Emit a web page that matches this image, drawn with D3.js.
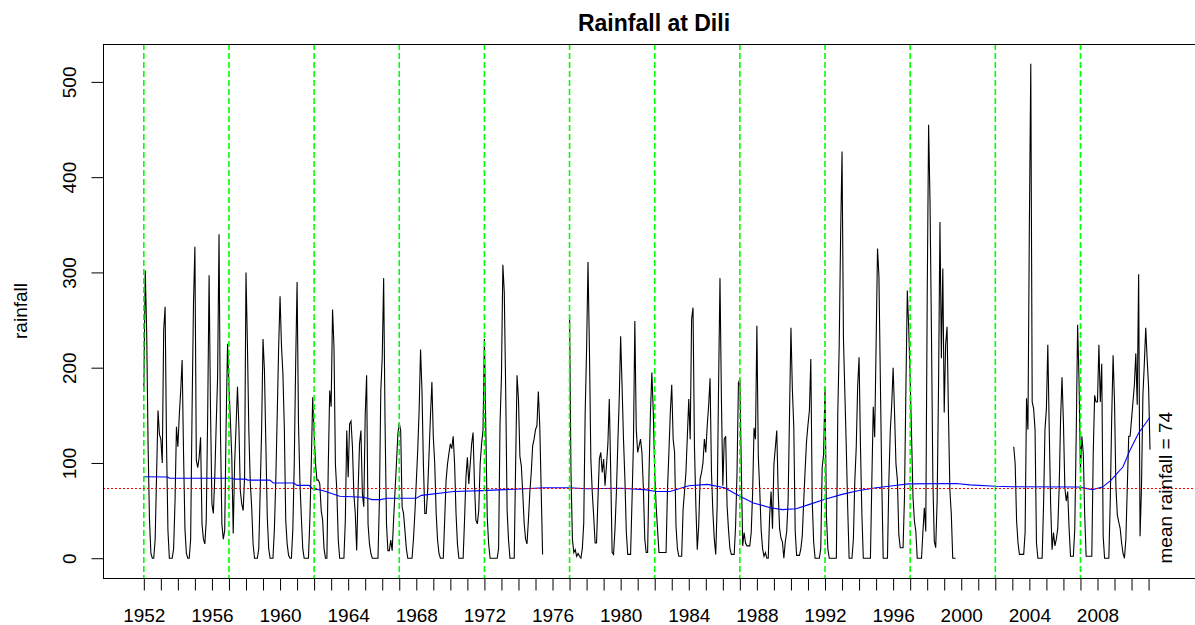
<!DOCTYPE html>
<html>
<head>
<meta charset="utf-8">
<script src="https://cdn.jsdelivr.net/npm/d3@7"></script>
<style>
  body { margin: 0; background: #fff; }
  svg { display: block; }
  text { font-family: "Liberation Sans", Arial, Helvetica, sans-serif; fill: #000; }
</style>
</head>
<body>
<svg id="chart" width="1195" height="625"></svg>
<script>
// Monthly rainfall at Dili (mm), January 1952 onwards; null = no record.
const startYear = 1952;
const rainfall = [
  175, 302, 240, 120, 40, 5, 0, 0, 20, 88, 155, 130,        // 1952
  125, 100, 239, 264, 120, 29, 0, 0, 0, 10, 60, 138,        // 1953
  117, 150, 176, 208, 110, 30, 5, 0, 0, 20, 155, 267,       // 1954
  327, 103, 95, 106, 127, 36, 20, 15, 40, 150, 297, 155,    // 1955
  57, 47, 85, 140, 190, 340, 134, 36, 20, 29, 141, 225,     // 1956
  180, 145, 106, 26, 100, 138, 180, 138, 71, 57, 50, 85,    // 1957
  300, 225, 134, 80, 54, 15, 0, 0, 0, 10, 70, 134,          // 1958
  230, 197, 120, 43, 10, 0, 0, 0, 30, 82, 150, 221,         // 1959
  275, 223, 194, 138, 40, 15, 3, 0, 0, 30, 99, 204,         // 1960
  290, 141, 80, 43, 10, 0, 0, 0, 0, 40, 99, 169,            // 1961
  131, 99, 82, 82, 78, 50, 40, 10, 0, 0, 99, 176,           // 1962
  159, 261, 222, 99, 71, 20, 0, 0, 0, 0, 40, 134,           // 1963
  85, 141, 144, 117, 68, 47, 8, 71, 120, 134, 68, 54,       // 1964
  150, 192, 36, 15, 5, 0, 0, 0, 0, 0, 60, 176,              // 1965
  211, 294, 141, 36, 8, 8, 19, 8, 40, 70, 99, 130,          // 1966
  142, 134, 54, 47, 29, 10, 0, 0, 0, 0, 20, 47,             // 1967
  80, 113, 155, 219, 176, 99, 47, 47, 71, 110, 150, 185,    // 1968
  127, 99, 47, 19, 5, 0, 0, 0, 40, 82, 99, 110,             // 1969
  120, 115, 128, 99, 47, 15, 0, 0, 0, 0, 40, 85,            // 1970
  106, 78, 99, 120, 132, 78, 40, 36, 50, 99, 120, 134,      // 1971
  230, 134, 43, 15, 0, 0, 0, 0, 0, 0, 10, 141,              // 1972
  190, 308, 279, 176, 50, 19, 0, 0, 0, 0, 99, 192,          // 1973
  167, 107, 97, 69, 37, 20, 15, 40, 69, 90, 118, 125,       // 1974
  135, 139, 175, 139, 72, 4, null, null, null, null, null, null,          // 1975
  null, null, null, null, null, null, null, null, null, null, null, null, // 1976
  255, 90, 20, 6, 9, 2, 5, 2, 0, 10, 37, 153,               // 1977
  219, 311, 219, 104, 69, 44, 16, 16, 62, 104, 111, 90,     // 1978
  104, 76, 97, 120, 167, 90, 6, 4, 30, 69, 120, 167,        // 1979
  233, 181, 125, 83, 27, 4, 4, 4, 60, 120, 249, 135,        // 1980
  111, 118, 125, 111, 74, 20, 6, 6, 90, 153, 195, 153,      // 1981
  90, 55, 30, 6, 6, 6, 6, 6, 6, 72, 111, 153,               // 1982
  182, 125, 111, 34, 10, 2, 2, 2, 51, 70, 90, 128,          // 1983
  167, 125, 251, 263, 118, 55, 9, 34, 83, 90, 100, 125,     // 1984
  111, 139, 160, 189, 90, 48, 20, 4, 55, 181, 294, 167,     // 1985
  76, 125, 128, 55, 30, 10, 4, 4, 4, 34, 90, 184,           // 1986
  188, 97, 13, 27, 16, 13, 13, 13, 27, 69, 137, 125,        // 1987
  244, 107, 72, 30, 10, 2, 6, 0, 0, 45, 70, 31,             // 1988
  99, 116, 134, 70, 31, 21, 17, 0, 17, 28, 60, 152,         // 1989
  242, 177, 138, 28, 3, 3, 3, 10, 24, 60, 93, 123,          // 1990
  140, 155, 209, 60, 17, 0, 0, 0, 0, 10, 95, 109,           // 1991
  180, 45, 10, 0, 0, 0, 0, 0, 0, 152, 223, 339,             // 1992
  427, 230, 173, 116, 52, 0, 0, 0, 20, 81, 116, 180,        // 1993
  211, 116, 45, 0, 0, 0, 0, 0, 0, 81, 159, 127,             // 1994
  223, 325, 296, 187, 81, 0, 0, 0, 0, 81, 134, 161,         // 1995
  200, 153, 99, 82, 25, 11, 11, 11, 64, 178, 281, 241,      // 1996
  188, 128, 64, 39, 28, 0, 0, 0, 0, 28, 53, 28,             // 1997
  270, 455, 373, 238, 82, 18, 11, 60, 181, 353, 210, 304,   // 1998
  153, 224, 243, 150, 71, 46, 0, 0, 0, null, null, null,    // 1999
  null, null, null, null, null, null, null, null, null, null, null, null, // 2000
  null, null, null, null, null, null, null, null, null, null, null, null, // 2001
  null, null, null, null, null, null, null, null, null, null, null, null, // 2002
  null, 117, 99, 39, 16, 4, 4, 4, 4, 27, 168, 135,          // 2003
  350, 519, 164, 157, 135, 16, 0, 0, 0, 0, 56, 135,         // 2004
  157, 224, 135, 56, 9, 27, 13, 20, 31, 74, 146, 190,       // 2005
  143, 74, 60, 70, 31, 2, 2, 2, 31, 128, 245, 186,          // 2006
  92, 128, 110, 45, 2, 2, 2, 2, 2, 110, 171, 164,           // 2007
  164, 224, 164, 204, 23, 0, 0, 0, 0, 60, 146, 213,         // 2008
  164, 74, 45, 38, 31, 16, 5, 0, 20, 74, 128, 128,          // 2009
  146, 164, 182, 215, 161, 298, 23, 74, 171, 204, 242, 209, // 2010
  180, 114, null, null, null, null, null, null, null, null, null, null    // 2011
];

// Smoothed trend (blue curve): time in decimal years and value.
const trendTimes = [
  1952.0, 1953.4, 1953.5, 1957.2, 1957.3, 1958.0, 1958.1, 1959.4, 1959.6, 1960.8,
  1961.0, 1961.7, 1961.9, 1962.5, 1963.5, 1964.9, 1965.4, 1965.9, 1966.3, 1968.0,
  1968.3, 1970.2, 1971.9, 1974.1, 1975.5, 1977.0, 1978.0, 1980.0, 1981.4, 1982.1,
  1982.9, 1984.0, 1985.1, 1986.1, 1987.0, 1987.8, 1988.8, 1989.5, 1990.3, 1991.0,
  1992.0, 1993.0, 1994.0, 1995.0, 1996.0, 1996.9, 1999.7, 2000.5, 2002.0, 2003.0,
  2006.9, 2007.7, 2008.3, 2008.8, 2009.5, 2009.9, 2010.4, 2011.08
];
const trendValues = [
  85.5, 85.3, 84, 84, 83, 83, 82, 82, 79, 79,
  76.5, 76.5, 73, 71, 65, 64, 61.5, 61.5, 63, 63,
  66, 70, 71, 72.7, 74, 74, 73, 73.5, 72, 70,
  70, 76, 77.5, 74, 65, 58, 53, 51, 52, 56,
  62, 67, 71, 74, 76, 78, 78.5, 77, 75.5, 75,
  74.7, 72, 74.7, 82, 96, 113, 131, 148
];

const guideYears = [1952, 1957, 1962, 1967, 1972, 1977, 1982, 1987, 1992, 1997, 2002, 2007];
const meanRainfall = 74;
const meanLabel = "mean rainfall = 74";
const meanLabelYear = 2012;
const yTicks = [0, 100, 200, 300, 400, 500];
const xTickYears = [
  1952, 1953, 1954, 1955, 1956, 1957, 1958, 1959, 1960, 1961, 1962, 1963, 1964, 1965, 1966,
  1967, 1968, 1969, 1970, 1971, 1972, 1973, 1974, 1975, 1976, 1977, 1978, 1979, 1980, 1981,
  1982, 1983, 1984, 1985, 1986, 1987, 1988, 1989, 1990, 1991, 1992, 1993, 1994, 1995, 1996,
  1997, 1998, 1999, 2000, 2001, 2002, 2003, 2004, 2005, 2006, 2007, 2008, 2009, 2010, 2011
];
const xLabelYears = [1952, 1956, 1960, 1964, 1968, 1972, 1976, 1980, 1984, 1988, 1992, 1996, 2000, 2004, 2008];
const titleText = "Rainfall at Dili";
const yLabel = "rainfall";

// ---- layout ----
const box = { left: 103, right: 1205, top: 44, bottom: 578 };
const svg = d3.select("#chart");

const series = rainfall.map((v, i) => ({ t: startYear + i / 12, v }));
const tMin = series[0].t, tMax = series[series.length - 1].t;
const tPad = (tMax - tMin) * 0.04;
const vMax = d3.max(rainfall), vMin = 0;
const vPad = (vMax - vMin) * 0.04;

const x = d3.scaleLinear().domain([tMin - tPad, tMax + tPad]).range([box.left, box.right]);
const y = d3.scaleLinear().domain([vMin - vPad, vMax + vPad]).range([box.bottom, box.top]);

// rainfall series
const line = d3.line()
  .defined(d => d.v !== null)
  .x(d => x(d.t))
  .y(d => y(d.v));

svg.append("path")
  .datum(series)
  .attr("fill", "none")
  .attr("stroke", "#000")
  .attr("stroke-width", 1.1)
  .attr("d", line);

// smoothed trend
const trend = trendTimes.map((t, i) => ({ t, v: trendValues[i] }));
svg.append("path")
  .datum(trend)
  .attr("fill", "none")
  .attr("stroke", "#0000ff")
  .attr("stroke-width", 1.1)
  .attr("d", d3.line().x(d => x(d.t)).y(d => y(d.v)));

// five-year guides
svg.append("g").selectAll("line")
  .data(guideYears)
  .join("line")
  .attr("x1", d => x(d))
  .attr("x2", d => x(d))
  .attr("y1", box.top)
  .attr("y2", box.bottom)
  .attr("stroke", "#00ff00")
  .attr("stroke-width", 1.6)
  .attr("stroke-dasharray", "6,3");

// mean line
const yMean = Math.round(y(meanRainfall)) + 0.5;
svg.append("line")
  .attr("x1", box.left)
  .attr("x2", box.right)
  .attr("y1", yMean)
  .attr("y2", yMean)
  .attr("stroke", "#ff0000")
  .attr("stroke-width", 1)
  .attr("stroke-dasharray", "2,2");

// plot frame
svg.append("rect")
  .attr("x", box.left + 0.5)
  .attr("y", box.top + 0.5)
  .attr("width", box.right - box.left)
  .attr("height", box.bottom - box.top)
  .attr("fill", "none")
  .attr("stroke", "#000")
  .attr("stroke-width", 1);

// x axis
const xAxis = d3.axisBottom(x)
  .tickValues(xTickYears)
  .tickFormat(d => xLabelYears.includes(d) ? String(d) : "")
  .tickSize(12)
  .tickSizeOuter(0)
  .tickPadding(18);
const gx = svg.append("g")
  .attr("transform", `translate(0,${box.bottom + 0.5})`)
  .call(xAxis);
gx.select(".domain").remove();
gx.selectAll(".tick line").attr("stroke", "#000");
gx.selectAll(".tick text")
  .attr("font-size", 19)
  .attr("font-family", "Liberation Sans, Arial, sans-serif")
  .attr("fill", "#000");

// y axis
const yAxis = d3.axisLeft(y)
  .tickValues(yTicks)
  .tickSize(12)
  .tickSizeOuter(0);
const gy = svg.append("g")
  .attr("transform", `translate(${box.left + 0.5},0)`)
  .call(yAxis);
gy.select(".domain").remove();
gy.selectAll(".tick line").attr("stroke", "#000");
gy.selectAll(".tick text")
  .attr("x", null)
  .attr("dy", null)
  .attr("text-anchor", "middle")
  .attr("transform", "translate(-28,0) rotate(-90)")
  .attr("font-size", 19)
  .attr("font-family", "Liberation Sans, Arial, sans-serif")
  .attr("fill", "#000");

// title and axis label
svg.append("text")
  .attr("x", (box.left + box.right) / 2)
  .attr("y", 31)
  .attr("text-anchor", "middle")
  .attr("font-size", 23)
  .attr("font-weight", "bold")
  .text(titleText);

svg.append("text")
  .attr("transform", `translate(27,${(box.top + box.bottom) / 2}) rotate(-90)`)
  .attr("text-anchor", "middle")
  .attr("font-size", 19)
  .text(yLabel);

// mean annotation
svg.append("text")
  .attr("transform", `translate(${x(meanLabelYear)},${y(meanRainfall)}) rotate(-90)`)
  .attr("text-anchor", "middle")
  .attr("dy", "0.35em")
  .attr("font-size", 19)
  .text(meanLabel);
</script>
</body>
</html>
